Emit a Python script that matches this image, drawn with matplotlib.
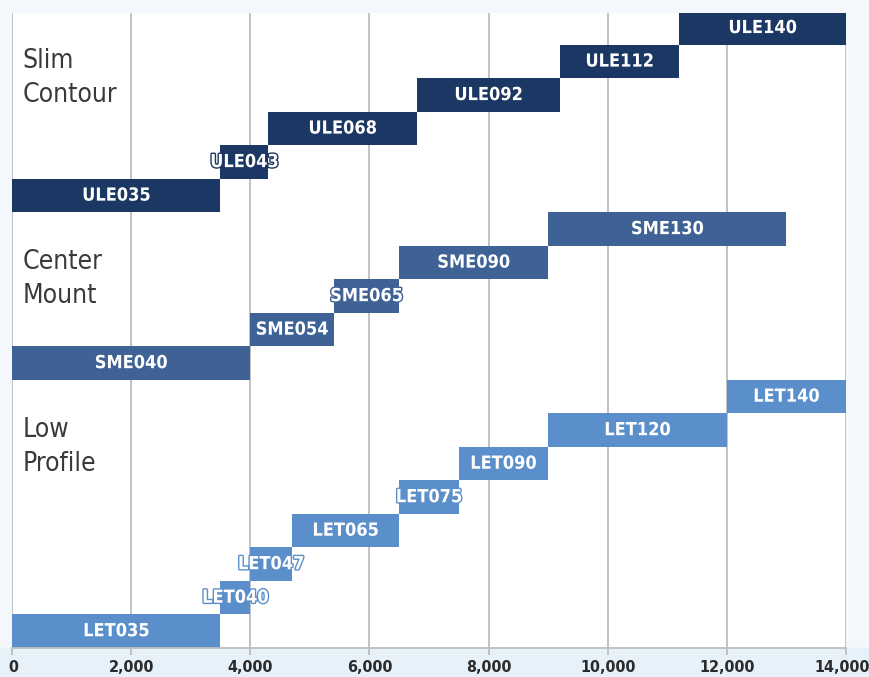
import matplotlib.pyplot as plt
import matplotlib.patheffects as pe
import matplotlib.transforms as mtransforms
from matplotlib.patches import Rectangle
from matplotlib.ticker import FuncFormatter

# models per family, listed bottom row first within each family
let_names = ["LET035", "LET040", "LET047", "LET065", "LET075", "LET090", "LET120", "LET140"]
let_start = [0, 3500, 4000, 4700, 6500, 7500, 9000, 12000]
let_end = [3500, 4000, 4700, 6500, 7500, 9000, 12000, 14000]

sme_names = ["SME040", "SME054", "SME065", "SME090", "SME130"]
sme_start = [0, 4000, 5400, 6500, 9000]
sme_end = [4000, 5400, 6500, 9000, 13000]

ule_names = ["ULE035", "ULE043", "ULE068", "ULE092", "ULE112", "ULE140"]
ule_start = [0, 3500, 4300, 6800, 9200, 11200]
ule_end = [3500, 4300, 6800, 9200, 11200, 14000]

groups = ["Low\nProfile", "Center\nMount", "Slim\nContour"]
group_colors = ["#5b8fcc", "#3e6196", "#1b3763"]
xticks = [0, 2000, 4000, 6000, 8000, 10000, 12000, 14000]

families = [
    (let_names, let_start, let_end),
    (sme_names, sme_start, sme_end),
    (ule_names, ule_start, ule_end),
]
# where the caption of each family sits, in rows above its first bar
caption_offset = [5.5, 2.5, 3.5]

fig = plt.figure(figsize=(8.7, 6.77), dpi=100, facecolor="#f4f8fd")
# light blue strip under the axis
fig.patches.append(Rectangle((0, 0), 1, 29 / 677, transform=fig.transFigure,
                             color="#e7f1fa", zorder=-10))
ax = fig.add_axes([12 / 870, 29 / 677, 834 / 870, 635 / 677])
ax.set_facecolor("white")

row = 0
for (names, starts, ends), color, glabel, off in zip(families, group_colors, groups, caption_offset):
    first_row = row
    for name, s, e in zip(names, starts, ends):
        ax.barh(row, e - s, left=s, height=1.0, color=color, zorder=2)
        ax.text((s + e) / 2, row, name, ha="center", va="center", color="white",
                fontsize=13, fontweight="bold", fontstretch="condensed", zorder=3,
                path_effects=[pe.withStroke(linewidth=2, foreground=color)])
        row += 1
    ax.text(170, first_row + off, glabel, ha="left", va="center", color="#3a3a3a",
            fontsize=19, fontstretch="condensed", linespacing=1.4, zorder=3)

ax.set_ylim(-0.5, row - 0.55)
ax.set_xlim(0, 14000)
ax.set_yticks([])
ax.set_xticks(xticks)
ax.xaxis.set_major_formatter(FuncFormatter(lambda v, p: f"{int(v):,}"))
ax.grid(axis="x", color="#bdbdbd", linewidth=1.3, zorder=0)
ax.set_axisbelow(True)
for side in ["top", "right", "left"]:
    ax.spines[side].set_visible(False)
ax.spines["bottom"].set_color("#bdbdbd")
ax.spines["bottom"].set_linewidth(1.3)
ax.tick_params(axis="x", length=5, width=1.3, color="#bdbdbd", pad=4)
labels = ax.get_xticklabels()
for lbl in labels:
    lbl.set_fontweight("bold")
    lbl.set_fontsize(11.5)
    lbl.set_fontstretch("condensed")
    lbl.set_color("#2b2b2b")
# nudge the last label so it stays inside the picture
labels[-1].set_transform(labels[-1].get_transform() +
                         mtransforms.ScaledTranslation(-4 / 100, 0, fig.dpi_scale_trans))
labels[0].set_transform(labels[0].get_transform() +
                        mtransforms.ScaledTranslation(1 / 100, 0, fig.dpi_scale_trans))

plt.savefig("out.png", dpi=100, facecolor=fig.get_facecolor())
